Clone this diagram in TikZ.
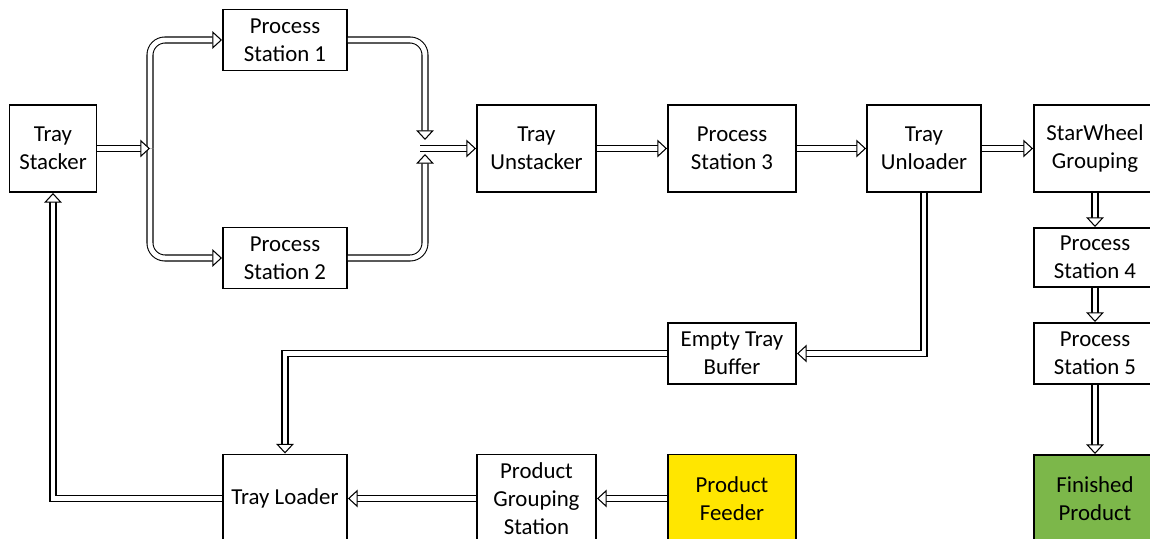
\documentclass[tikz,border=0pt]{standalone}
\usepackage{fontspec}
\setmainfont{Carlito}
\usepackage{xcolor}
\usetikzlibrary{positioning}
\usetikzlibrary{arrows.meta}

\definecolor{feedyellow}{HTML}{FFE600}
\definecolor{donegreen}{HTML}{7CB74A}

\tikzset{
  box/.style={draw, line width=1.1pt, fill=white, align=center,
    minimum width=2.48cm, minimum height=1.74cm, inner sep=2pt,
    font=\fontsize{13}{15.9}\selectfont},
  pipe/.style={double, double distance=2.8pt, line width=0.6pt,
    -{Triangle[open, fill=white, length=5.5pt, width=10pt]}}
}

\begin{document}
\begin{tikzpicture}[node distance=3cm,on grid]
   \useasboundingbox (0,0) rectangle (23,-10.78);
   \clip (0,0) rectangle (23,-10.78);
   \node[box, minimum width=1.74cm] (stacker) at (1.06,-2.97) {Tray\\Stacker};
   \node[box, minimum height=1.22cm] (ps1) [above right=2.17cm and 4.64cm of stacker] {Process\\Station 1};
   \node[box, minimum height=1.22cm] (ps2) [below right=2.19cm and 4.64cm of stacker] {Process\\Station 2};
   \node[box, minimum width=2.38cm] (unstacker) [right=9.67cm of stacker] {Tray\\Unstacker};
   \node[box, minimum width=2.56cm] (ps3) [right=3.91cm of unstacker] {Process\\Station 3};
   \node[box, minimum width=2.28cm] (unloader) [right=3.84cm of ps3] {Tray\\Unloader};
   \node[box, minimum width=2.44cm] (star) [right=3.42cm of unloader] {StarWheel\\Grouping};
   \node[box, minimum width=2.44cm, minimum height=1.18cm] (ps4) [below=2.18cm of star] {Process\\Station 4};
   \node[box, minimum width=2.44cm, minimum height=1.22cm] (ps5) [below=1.92cm of ps4] {Process\\Station 5};
   \node[box, minimum width=2.44cm, minimum height=1.76cm, fill=donegreen] (done) [below=2.91cm of ps5] {Finished\\Product};
   \node[box, minimum width=2.56cm, minimum height=1.22cm] (buffer) [below=4.10cm of ps3] {Empty Tray\\Buffer};
   \node[box, minimum width=2.56cm, minimum height=1.76cm, fill=feedyellow] (feeder) [below=7.0cm of ps3] {Product\\Feeder};
   \node[box, minimum width=2.38cm, minimum height=1.76cm] (grouping) [below=7.0cm of unstacker] {Product\\Grouping\\Station};
   \node[box, minimum height=1.76cm] (loader) [left=5.03cm of grouping] {Tray Loader};

   \coordinate (split) at (3.0,-2.97);
   \coordinate (mergeN) at (8.5,-2.80);
   \coordinate (mergeS) at (8.5,-3.08);
   \coordinate (merge) at (8.40,-2.97);

   \draw[pipe, rounded corners=0.3cm] (split) |- (ps1);
   \draw[pipe, rounded corners=0.3cm] (split) |- (ps2);
   \draw[pipe] (stacker) -- (split);
   \draw[pipe, rounded corners=0.3cm] (ps1) -| (mergeN);
   \draw[pipe, rounded corners=0.3cm] (ps2) -| (mergeS);
   \draw[pipe] (merge) -- (unstacker);
   \draw[pipe] (unstacker) -- (ps3);
   \draw[pipe] (ps3) -- (unloader);
   \draw[pipe] (unloader) -- (star);
   \draw[pipe] (star) -- (ps4);
   \draw[pipe] (ps4) -- (ps5);
   \draw[pipe] (ps5) -- (done);
   \draw[pipe] (unloader.south) |- (buffer.east);
   \draw[pipe] (buffer.west) -| (loader.north);
   \draw[pipe] (feeder) -- (grouping);
   \draw[pipe] (grouping) -- (loader);
   \draw[pipe] (loader.west) -| (stacker.south);
\end{tikzpicture}
\end{document}
